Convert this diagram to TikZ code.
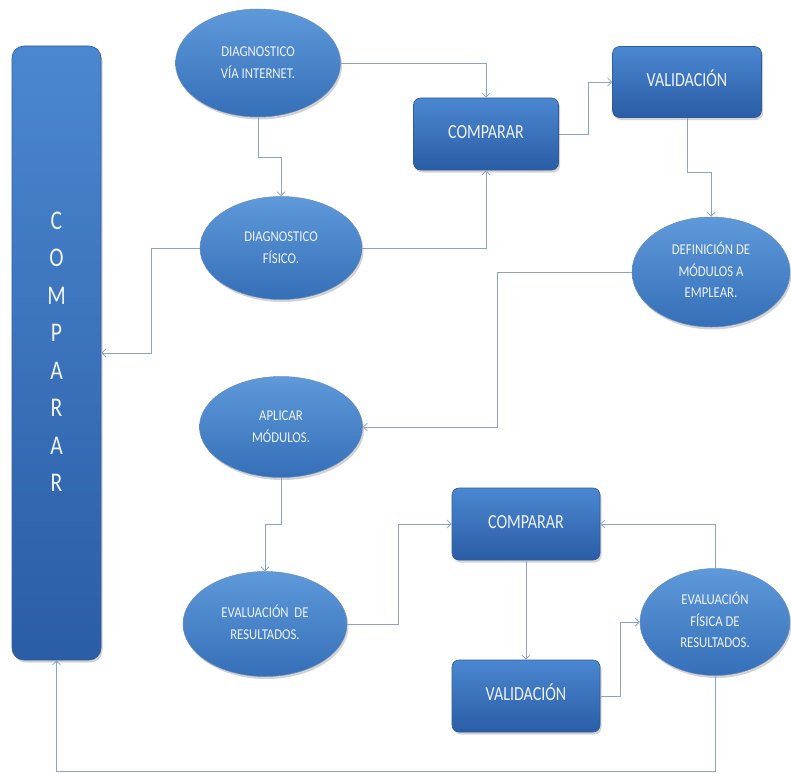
\documentclass[tikz,border=0pt]{standalone}
\usepackage{fontspec}
\setmainfont{Carlito}
\usetikzlibrary{shapes.geometric,arrows.meta,shadows}
\definecolor{lineC}{HTML}{8DA3C4}
\definecolor{boxTop}{HTML}{4B87D1}
\definecolor{boxBot}{HTML}{2A5DA5}
\definecolor{boxEdge}{HTML}{2D5C9C}
\definecolor{ellTop}{HTML}{5E99DA}
\definecolor{ellBot}{HTML}{356FB8}
\definecolor{txt}{HTML}{EEF3FA}
\newcommand\sqt[2]{\scalebox{#1}[1]{\begin{tabular}{@{}c@{}}#2\end{tabular}}}
\tikzset{
  shadowed/.style={drop shadow={opacity=0.35,shadow xshift=1.5pt,shadow yshift=-2.5pt}},
  boxnode/.style={rectangle, rounded corners=7pt, draw=boxEdge, line width=0.6pt,
    top color=boxTop, bottom color=boxBot, shadowed, text=txt,
    font=\fontsize{20}{24}\selectfont, inner sep=0pt},
  ellnode/.style={ellipse, draw=boxEdge!70, line width=0.5pt,
    top color=ellTop, bottom color=ellBot, shadowed, text=txt,
    font=\fontsize{15}{21.5}\selectfont, inner sep=0pt},
  conn/.style={draw=lineC, line width=0.8pt, -{Straight Barb[length=4pt,width=8pt]}},
}
\begin{document}
\begin{tikzpicture}[x=1pt,y=-1pt]
\useasboundingbox (0,0) rectangle (791,773);
% big left box
\node[boxnode, rounded corners=12pt, minimum width=89pt, minimum height=614pt,
  font=\fontsize{27}{37.5}\selectfont] (big) at (56.5,353)
  {\sqt{0.8}{C\\O\\M\\P\\A\\R\\A\\R}};
% ellipses
\node[ellnode, minimum width=165pt, minimum height=108pt] (diagI) at (258,63)
  {\sqt{0.85}{DIAGNOSTICO\\VÍA INTERNET.}};
\node[ellnode, minimum width=162pt, minimum height=103pt] (fis) at (281,248)
  {\sqt{0.85}{DIAGNOSTICO\\FÍSICO.}};
\node[ellnode, minimum width=158pt, minimum height=110pt] (defn) at (711,272)
  {\sqt{0.85}{DEFINICIÓN DE\\MÓDULOS A\\EMPLEAR.}};
\node[ellnode, minimum width=163pt, minimum height=101pt] (apl) at (281,427)
  {\sqt{0.85}{APLICAR\\MÓDULOS.}};
\node[ellnode, minimum width=164pt, minimum height=105pt] (evr) at (265,624)
  {\sqt{0.85}{EVALUACIÓN~ DE\\RESULTADOS.}};
\node[ellnode, minimum width=150pt, minimum height=107pt] (evf) at (715,622)
  {\sqt{0.85}{EVALUACIÓN\\FÍSICA DE\\RESULTADOS.}};
% boxes
\node[boxnode, minimum width=145pt, minimum height=72pt] (cmp1) at (486,134)
  {\sqt{0.8}{COMPARAR}};
\node[boxnode, minimum width=149pt, minimum height=71pt] (val1) at (687,82)
  {\sqt{0.8}{VALIDACIÓN}};
\node[boxnode, minimum width=148pt, minimum height=72pt] (cmp2) at (526,524)
  {\sqt{0.8}{COMPARAR}};
\node[boxnode, minimum width=148pt, minimum height=72pt] (val2) at (526,696)
  {\sqt{0.8}{VALIDACIÓN}};
% connectors
\draw[conn] (diagI.south) -- ++(0,40) -| (fis.north);
\draw[conn] (diagI.east) -| (cmp1.north);
\draw[conn] (fis.east) -| (cmp1.south);
\draw[conn] (fis.west) -- ++(-48,0) |- (big.east);
\draw[conn] (cmp1.east) -- ++(30,0) |- (val1.west);
\draw[conn] (val1.south) -- ++(0,55) -| (defn.north);
\draw[conn] (defn.west) -- ++(-134,0) |- (apl.east);
\draw[conn] (apl.south) -- ++(0,47) -| (evr.north);
\draw[conn] (evr.east) -- ++(51,0) |- (cmp2.west);
\draw[conn] (cmp2.south) -- (val2.north);
\draw[conn] (val2.east) -- ++(20,0) |- (evf.west);
\draw[conn] (evf.north) |- (cmp2.east);
\coordinate (bl) at (715,771);
\draw[conn] (evf.south) -- (bl) -| (big.south);
\end{tikzpicture}
\end{document}
